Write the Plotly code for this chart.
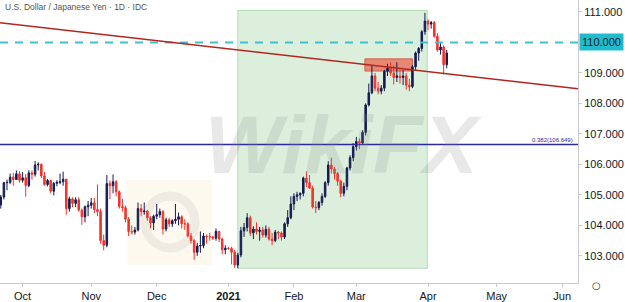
import plotly.graph_objects as go

# ---- data (USD/JPY daily) ----
dates = [
    "2020-09-22","2020-09-23","2020-09-24","2020-09-25","2020-09-28","2020-09-29","2020-09-30",
    "2020-10-01","2020-10-02","2020-10-05","2020-10-06","2020-10-07","2020-10-08","2020-10-09",
    "2020-10-12","2020-10-13","2020-10-14","2020-10-15","2020-10-16","2020-10-19","2020-10-20",
    "2020-10-21","2020-10-22","2020-10-23","2020-10-26","2020-10-27","2020-10-28","2020-10-29",
    "2020-10-30","2020-11-02","2020-11-03","2020-11-04","2020-11-05","2020-11-06","2020-11-09",
    "2020-11-10","2020-11-11","2020-11-12","2020-11-13","2020-11-16","2020-11-17","2020-11-18",
    "2020-11-19","2020-11-20","2020-11-23","2020-11-24","2020-11-25","2020-11-26","2020-11-27",
    "2020-11-30","2020-12-01","2020-12-02","2020-12-03","2020-12-04","2020-12-07","2020-12-08",
    "2020-12-09","2020-12-10","2020-12-11","2020-12-14","2020-12-15","2020-12-16","2020-12-17",
    "2020-12-18","2020-12-21","2020-12-22","2020-12-23","2020-12-24","2020-12-25","2020-12-28",
    "2020-12-29","2020-12-30","2020-12-31","2021-01-01","2021-01-04","2021-01-05","2021-01-06",
    "2021-01-07","2021-01-08","2021-01-11","2021-01-12","2021-01-13","2021-01-14","2021-01-15",
    "2021-01-18","2021-01-19","2021-01-20","2021-01-21","2021-01-22","2021-01-25","2021-01-26",
    "2021-01-27","2021-01-28","2021-01-29","2021-02-01","2021-02-02","2021-02-03","2021-02-04",
    "2021-02-05","2021-02-08","2021-02-09","2021-02-10","2021-02-11","2021-02-12","2021-02-15",
    "2021-02-16","2021-02-17","2021-02-18","2021-02-19","2021-02-22","2021-02-23","2021-02-24",
    "2021-02-25","2021-02-26","2021-03-01","2021-03-02","2021-03-03","2021-03-04","2021-03-05",
    "2021-03-08","2021-03-09","2021-03-10","2021-03-11","2021-03-12","2021-03-15","2021-03-16",
    "2021-03-17","2021-03-18","2021-03-19","2021-03-22","2021-03-23","2021-03-24","2021-03-25",
    "2021-03-26","2021-03-29","2021-03-30","2021-03-31","2021-04-01","2021-04-02","2021-04-05",
    "2021-04-06","2021-04-07","2021-04-08","2021-04-09",
]
opens = [
    104.67,104.93,105.40,105.41,105.58,105.50,105.69,
    105.48,105.56,105.31,105.72,105.68,105.98,106.00,
    105.62,105.34,105.47,105.12,105.38,105.41,105.43,
    105.51,104.55,104.87,104.72,104.84,104.50,104.28,
    104.61,104.66,104.74,104.52,104.45,103.50,103.35,
    105.37,105.30,105.43,105.10,104.62,104.58,104.20,
    103.80,103.78,103.85,104.55,104.45,104.47,104.25,
    104.08,104.30,104.35,104.45,103.88,104.18,104.05,
    104.15,104.20,104.28,104.05,104.05,103.65,103.50,
    103.12,103.32,103.34,103.65,103.63,103.62,103.58,
    103.80,103.55,103.20,103.25,103.24,103.12,102.70,
    103.03,103.82,103.93,104.25,103.75,103.88,103.80,
    103.85,103.68,103.87,103.55,103.50,103.78,103.75,
    103.62,104.05,104.25,104.70,104.95,105.00,105.05,
    105.55,105.40,105.22,104.60,104.58,104.75,104.95,
    105.40,105.98,105.85,105.70,105.45,105.05,105.28,
    105.88,106.22,106.58,106.75,106.70,107.05,107.95,
    108.35,108.90,108.50,108.40,108.50,109.05,109.15,
    109.00,108.85,108.90,108.85,108.90,108.60,108.55,
    109.20,109.65,109.80,110.35,110.70,110.60,110.65,
    110.20,109.75,109.85,109.27,
]
highs = [
    105.00,105.43,105.50,105.70,105.72,105.80,105.77,
    105.75,105.68,105.80,105.80,106.11,106.07,106.03,
    105.75,105.52,105.50,105.42,105.48,105.70,105.76,
    105.53,104.94,104.92,104.92,104.92,104.55,104.65,
    104.80,104.90,104.90,105.34,104.55,103.70,105.65,
    105.47,105.67,105.48,105.15,104.87,104.65,104.27,
    104.00,103.95,104.75,104.70,104.75,104.50,104.30,
    104.35,104.70,104.55,104.50,104.25,104.25,104.20,
    104.70,104.42,104.33,104.20,104.10,103.75,103.55,
    103.43,103.80,103.75,103.70,103.75,103.65,103.90,
    103.82,103.60,103.35,103.30,103.30,103.20,103.10,
    103.95,104.08,104.40,104.32,103.97,104.10,103.95,
    103.95,104.00,103.95,103.75,103.85,103.82,103.80,
    104.10,104.50,104.95,105.05,105.10,105.08,105.60,
    105.77,105.65,105.30,104.80,104.80,105.05,105.45,
    106.10,106.22,105.92,105.75,105.50,105.40,105.92,
    106.30,106.70,106.90,106.85,107.12,108.00,108.65,
    109.25,109.00,108.70,108.60,109.10,109.30,109.35,
    109.25,109.35,109.10,109.10,109.00,108.80,109.25,
    109.70,109.85,110.40,110.97,110.75,110.70,110.70,
    110.30,110.00,109.90,109.75,
]
lows = [
    104.55,104.85,105.15,105.35,105.30,105.50,105.40,
    105.40,104.94,105.25,105.50,105.60,105.80,105.55,
    105.30,105.28,105.05,104.98,105.28,105.35,105.30,
    104.35,104.45,104.60,104.60,104.45,104.02,104.10,
    104.30,104.55,104.40,104.30,103.40,103.18,103.28,
    104.86,105.05,104.95,104.55,104.45,104.10,103.65,
    103.70,103.70,103.80,104.30,104.35,104.15,103.90,
    103.85,104.20,104.25,103.70,103.80,103.95,103.95,
    104.05,104.00,103.90,103.85,103.60,103.40,102.87,
    103.00,103.10,103.25,103.40,103.50,103.52,103.50,
    103.45,103.05,103.05,103.20,102.72,102.60,102.59,
    102.95,103.62,103.80,103.65,103.55,103.70,103.50,
    103.60,103.60,103.50,103.35,103.45,103.55,103.50,
    103.55,103.95,104.20,104.50,104.80,104.85,104.95,
    105.25,105.20,104.55,104.40,104.50,104.65,104.90,
    105.30,105.70,105.50,105.30,104.92,104.95,105.15,
    105.80,106.10,106.45,106.50,106.65,106.95,107.90,
    108.30,108.40,108.30,108.30,108.40,108.90,108.90,
    108.62,108.70,108.65,108.60,108.45,108.40,108.50,
    109.10,109.40,109.70,110.25,110.40,110.45,110.15,
    109.70,109.60,108.95,109.15,
]
closes = [
    104.93,105.40,105.41,105.58,105.50,105.69,105.48,
    105.56,105.31,105.72,105.68,105.98,106.00,105.62,
    105.34,105.47,105.12,105.38,105.41,105.43,105.51,
    104.55,104.87,104.72,104.84,104.50,104.28,104.61,
    104.66,104.74,104.52,104.45,103.50,103.35,105.37,
    105.30,105.43,105.10,104.62,104.58,104.20,103.80,
    103.78,103.85,104.55,104.45,104.47,104.25,104.08,
    104.30,104.35,104.45,103.88,104.18,104.05,104.15,
    104.20,104.28,104.05,104.05,103.65,103.50,103.12,
    103.32,103.34,103.65,103.63,103.62,103.58,103.80,
    103.55,103.20,103.25,103.24,103.12,102.70,103.03,
    103.82,103.93,104.25,103.75,103.88,103.80,103.85,
    103.68,103.87,103.55,103.50,103.78,103.75,103.62,
    104.05,104.25,104.70,104.95,105.00,105.05,105.55,
    105.40,105.22,104.60,104.58,104.75,104.95,105.40,
    105.98,105.85,105.70,105.45,105.05,105.28,105.88,
    106.22,106.58,106.75,106.70,107.05,107.95,108.35,
    108.90,108.50,108.40,108.50,109.05,109.15,109.00,
    108.85,108.90,108.85,108.90,108.60,108.55,109.20,
    109.65,109.80,110.35,110.70,110.60,110.65,110.20,
    109.75,109.85,109.27,109.65,
]

month_ticks = ["2020-10-01","2020-11-02","2020-12-01","2021-01-01","2021-02-01",
               "2021-03-01","2021-04-01","2021-05-03","2021-06-01"]
month_labels = ["Oct","Nov","Dec","<b>2021</b>","Feb","Mar","Apr","May","Jun"]
price_ticks = [103,104,105,106,107,108,109,111]
price_labels = ["103.000","104.000","105.000","106.000","107.000","108.000","109.000","111.000"]

# drawing levels
level_110 = 110.0
fib_level = 106.649
trend_start, trend_end = 110.64, 108.48
green_box = ("2021-01-06", "2021-03-31 18:00", 102.59, 111.05)
red_box = ("2021-03-03 18:00", "2021-03-25", 109.06, 109.46)

W, H = 625, 302
L, R, T, B = 0, 47, 0, 19
PW, PH = W - L - R, H - T - B

def px(x):
    return x / PW

def py(y):
    return 1 - y / PH

fig = go.Figure()
fig.add_trace(go.Candlestick(
    x=dates, open=opens, high=highs, low=lows, close=closes,
    increasing=dict(line=dict(color="#161c52", width=1), fillcolor="#161c52"),
    decreasing=dict(line=dict(color="#f0352b", width=1), fillcolor="#f0352b"),
    whiskerwidth=0, showlegend=False, hoverinfo="skip",
))

shapes = [
    # green range box
    dict(type="rect", xref="x", yref="y", x0=green_box[0], x1=green_box[1],
         y0=green_box[2], y1=green_box[3], fillcolor="rgba(76,175,80,0.2)",
         line=dict(color="rgba(76,175,80,0.35)", width=1), layer="below"),
    # salmon resistance box
    dict(type="rect", xref="x", yref="y", x0=red_box[0], x1=red_box[1],
         y0=red_box[2], y1=red_box[3], fillcolor="rgba(232,110,88,0.8)",
         line=dict(color="rgba(210,90,70,0.9)", width=1), layer="below"),
    # watermark logo square
    dict(type="rect", xref="paper", yref="paper", x0=px(127), x1=px(212), y0=py(265), y1=py(180),
         fillcolor="rgba(250,215,140,0.14)", line=dict(width=0), layer="below"),
    dict(type="circle", xref="paper", yref="paper", x0=px(145), x1=px(195), y0=py(248), y1=py(196),
         fillcolor="rgba(0,0,0,0)", line=dict(color="rgba(150,150,150,0.14)", width=9), layer="below"),
    # fib line
    dict(type="line", xref="paper", yref="y", x0=0, x1=1, y0=fib_level, y1=fib_level,
         line=dict(color="#2a2a9a", width=1.5)),
    # dashed 110 line
    dict(type="line", xref="paper", yref="y", x0=0, x1=1, y0=level_110, y1=level_110,
         line=dict(color="#3fc1cf", width=2, dash="8px,7px")),
    # trend line
    dict(type="line", xref="paper", yref="y", x0=0, x1=1, y0=trend_start, y1=trend_end,
         line=dict(color="#b3261e", width=1.5)),
]

annotations = [
    dict(text="WikiFX", xref="paper", yref="paper", x=px(343), y=py(192), showarrow=False,
         font=dict(family="Liberation Sans", size=82, color="rgba(140,140,140,0.2)",
                   weight="bold", style="italic")),
    dict(text="U.S. Dollar / Japanese Yen · 1D · IDC", xref="paper", yref="paper",
         x=px(3), y=py(7), xanchor="left", yanchor="middle", showarrow=False,
         font=dict(family="Liberation Sans", size=8.5, color="#555555")),
    dict(text="0.382(106.649)", xref="paper", yref="y", x=px(575), y=fib_level,
         xanchor="right", yanchor="bottom", yshift=0, showarrow=False,
         font=dict(family="Liberation Sans", size=6, color="#2a2a9a")),
    dict(text="110.000", xref="paper", yref="y", x=1, y=level_110, xanchor="left",
         yanchor="middle", xshift=1, showarrow=False, bgcolor="#1fbccf", borderpad=2,
         font=dict(family="Liberation Sans", size=11, color="#131722")),
    dict(text="○", xref="paper", yref="paper", x=px(603), y=py(293), showarrow=False,
         font=dict(family="DejaVu Sans", size=10, color="#333333")),
]

fig.update_layout(
    width=W, height=H,
    margin=dict(l=L, r=R, t=T, b=B),
    paper_bgcolor="white", plot_bgcolor="white",
    shapes=shapes, annotations=annotations,
    showlegend=False,
    xaxis=dict(
        type="date", range=["2020-09-21 18:00", "2021-06-08 02:00"],
        rangebreaks=[dict(bounds=["sat", "mon"])],
        rangeslider=dict(visible=False),
        tickmode="array", tickvals=month_ticks, ticktext=month_labels,
        showgrid=False, zeroline=False, showline=True, linecolor="#c9cbd0", linewidth=1,
        ticks="outside", ticklen=3, tickcolor="#c9cbd0",
        tickfont=dict(family="Liberation Sans", size=11, color="#131722"),
        fixedrange=True,
    ),
    yaxis=dict(
        side="right", range=[102.11, 111.39],
        tickmode="array", tickvals=price_ticks, ticktext=price_labels,
        showgrid=False, zeroline=False, showline=True, linecolor="#c9cbd0", linewidth=1,
        ticks="outside", ticklen=3, tickcolor="#c9cbd0",
        tickfont=dict(family="Liberation Sans", size=11, color="#131722"),
        fixedrange=True,
    ),
)

fig.write_html("out.html")
